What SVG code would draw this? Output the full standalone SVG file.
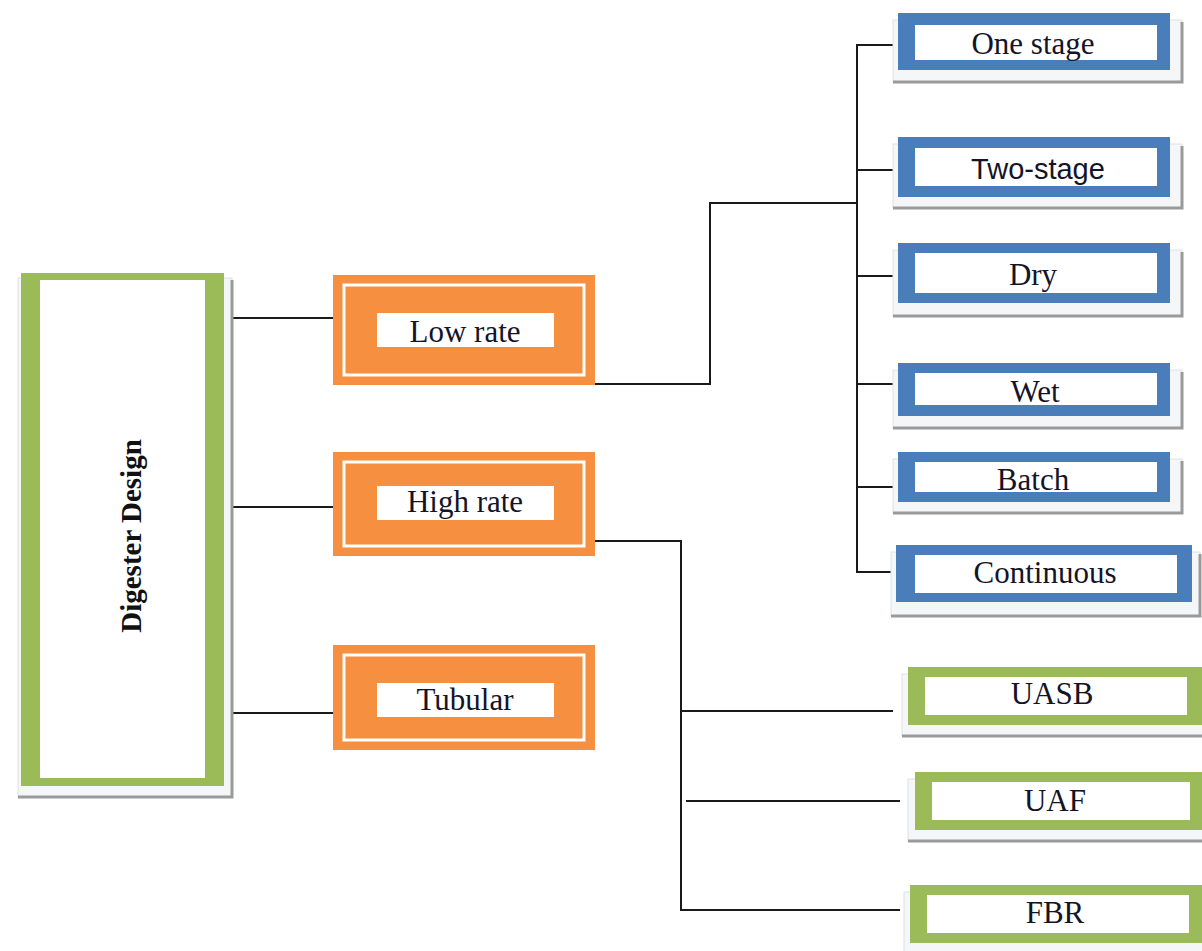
<svg xmlns="http://www.w3.org/2000/svg" width="1202" height="951" viewBox="0 0 1202 951">
<style>
.bg{fill:#ffffff}
.sh{fill:#f4f6f8;stroke:#dde2e6;stroke-width:1}
.shl{fill:none;stroke:#9a9a9a;stroke-width:3}
.blue{fill:#4a7ebb}
.green{fill:#9bbb59}
.orange{fill:#f68f3f}
.in{fill:#ffffff}
.dl{fill:none;stroke:#ffffff;stroke-width:3}
.t{font-family:"Liberation Serif","Times New Roman",serif;font-size:31px;fill:#141428;text-anchor:middle}
.ts{font-family:"Liberation Sans",Arial,sans-serif;font-size:29px;fill:#141428;text-anchor:middle}
.tb{font-family:"Liberation Serif","Times New Roman",serif;font-size:29px;font-weight:bold;fill:#111111;text-anchor:middle}
.c{fill:none;stroke:#1a1a1a;stroke-width:2}
</style>
<rect class="bg" x="0" y="0" width="1202" height="951"/>

<g id="connectors">
  <path class="c" d="M230,318 H345"/>
  <path class="c" d="M230,507 H345"/>
  <path class="c" d="M230,713 H345"/>
  <path class="c" d="M592,384 H710 V203 H857"/>
  <path class="c" d="M896,45 H857 V572 H896"/>
  <path class="c" d="M857,170 H896"/>
  <path class="c" d="M857,276 H896"/>
  <path class="c" d="M857,384 H896"/>
  <path class="c" d="M857,487 H896"/>
  <path class="c" d="M592,541 H681 V910 H900"/>
  <path class="c" d="M681,711 H893"/>
  <path class="c" d="M686,801 H900"/>
</g>

<g id="digester-design">
  <rect class="sh" x="18" y="278" width="214" height="519"/>
  <path class="shl" d="M18,797 H232 V280"/>
  <rect class="green" x="21" y="273" width="203" height="513"/>
  <rect class="in" x="40" y="280" width="165" height="498"/>
  <text class="tb" transform="translate(141,536) rotate(-90)">Digester Design</text>
</g>

<g id="low-rate">
  <rect class="orange" x="333" y="275" width="262" height="110"/>
  <rect class="dl" x="344" y="285" width="240" height="90"/>
  <rect class="in" x="377" y="313" width="177" height="34"/>
  <text class="t" x="465" y="342">Low rate</text>
</g>

<g id="high-rate">
  <rect class="orange" x="333" y="452" width="262" height="104"/>
  <rect class="dl" x="344" y="462" width="240" height="84"/>
  <rect class="in" x="377" y="486" width="177" height="34"/>
  <text class="t" x="465" y="512">High rate</text>
</g>

<g id="tubular">
  <rect class="orange" x="333" y="645" width="262" height="105"/>
  <rect class="dl" x="344" y="655" width="240" height="85"/>
  <rect class="in" x="377" y="683" width="177" height="34"/>
  <text class="t" x="465" y="710">Tubular</text>
</g>

<g id="one-stage">
  <rect class="sh" x="893" y="20" width="289" height="62"/>
  <path class="shl" d="M893,82 H1182 V22"/>
  <rect class="blue" x="898" y="13" width="272" height="57"/>
  <rect class="in" x="915" y="25" width="242" height="35"/>
  <text class="t" x="1033" y="54">One stage</text>
</g>

<g id="two-stage">
  <rect class="sh" x="893" y="144" width="289" height="64"/>
  <path class="shl" d="M893,208 H1182 V146"/>
  <rect class="blue" x="898" y="137" width="272" height="60"/>
  <rect class="in" x="915" y="148" width="242" height="38"/>
  <text class="ts" x="1038" y="179">Two-stage</text>
</g>

<g id="dry">
  <rect class="sh" x="893" y="250" width="289" height="66"/>
  <path class="shl" d="M893,316 H1182 V252"/>
  <rect class="blue" x="898" y="243" width="272" height="60"/>
  <rect class="in" x="915" y="253" width="242" height="40"/>
  <text class="t" x="1033" y="285">Dry</text>
</g>

<g id="wet">
  <rect class="sh" x="893" y="370" width="289" height="58"/>
  <path class="shl" d="M893,428 H1182 V372"/>
  <rect class="blue" x="898" y="363" width="272" height="53"/>
  <rect class="in" x="915" y="373" width="242" height="32"/>
  <text class="t" x="1035" y="402">Wet</text>
</g>

<g id="batch">
  <rect class="sh" x="893" y="459" width="289" height="54"/>
  <path class="shl" d="M893,513 H1182 V461"/>
  <rect class="blue" x="898" y="452" width="272" height="50"/>
  <rect class="in" x="915" y="462" width="242" height="30"/>
  <text class="t" x="1033" y="490">Batch</text>
</g>

<g id="continuous">
  <rect class="sh" x="891" y="552" width="309" height="64"/>
  <path class="shl" d="M891,616 H1200 V554"/>
  <rect class="blue" x="896" y="545" width="296" height="57"/>
  <rect class="in" x="915" y="555" width="262" height="38"/>
  <text class="t" x="1045" y="583">Continuous</text>
</g>

<g id="uasb">
  <rect class="sh" x="902" y="674" width="310" height="62"/>
  <path class="shl" d="M902,736 H1212"/>
  <rect class="green" x="908" y="667" width="300" height="58"/>
  <rect class="in" x="925" y="677" width="262" height="38"/>
  <text class="t" x="1052" y="704">UASB</text>
</g>

<g id="uaf">
  <rect class="sh" x="908" y="779" width="310" height="62"/>
  <path class="shl" d="M908,841 H1218"/>
  <rect class="green" x="915" y="772" width="300" height="58"/>
  <rect class="in" x="932" y="782" width="258" height="38"/>
  <text class="t" x="1055" y="811">UAF</text>
</g>

<g id="fbr">
  <rect class="sh" x="904" y="892" width="310" height="62"/>
  <rect class="green" x="910" y="885" width="300" height="58"/>
  <rect class="in" x="927" y="895" width="262" height="38"/>
  <text class="t" x="1055" y="923">FBR</text>
</g>
</svg>
